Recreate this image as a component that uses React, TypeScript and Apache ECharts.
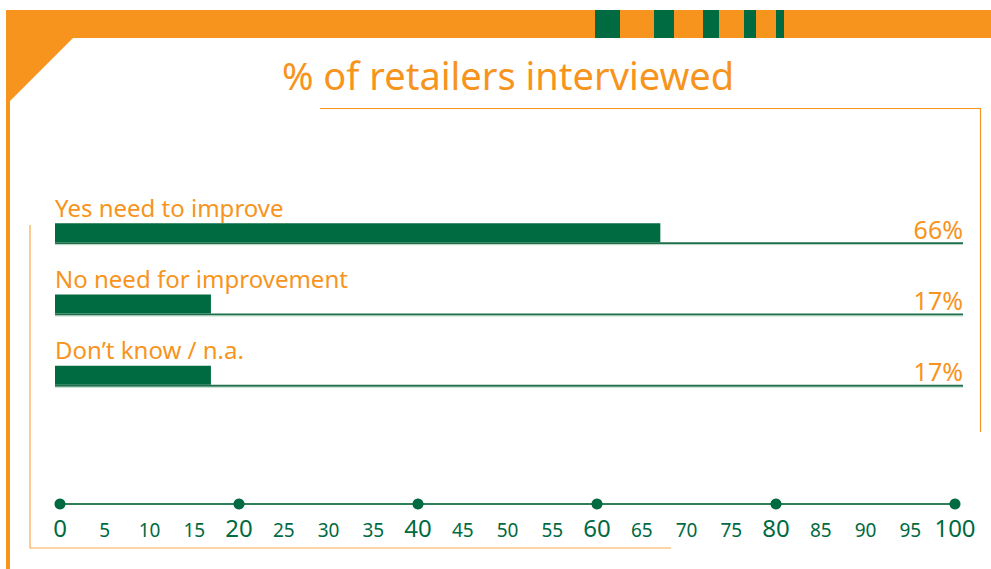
import React, { useEffect, useRef } from "react";
import * as echarts from "echarts";

const categories = ["Yes need to improve", "No need for improvement", "Don\u2019t know / n.a."];
const values = [66, 17, 17];
const majorTicks = [0, 20, 40, 60, 80, 100];

const ORANGE = "#F7941D";
const GREEN = "#006A41";
const FONT = "Noto Sans";

export default function App() {
  const ref = useRef<HTMLDivElement>(null);
  useEffect(() => {
    if (!ref.current) return;
    const chart = echarts.init(ref.current, null, { renderer: "svg" });
    const option: any = {
      animation: false,
      backgroundColor: "#ffffff",
      title: {
        text: "% of retailers interviewed",
        left: 503,
        textAlign: "center",
        top: 51,
        textStyle: { color: ORANGE, fontFamily: FONT, fontWeight: "normal", fontSize: 38 },
      },
      grid: [
        { left: 55, right: 28, top: 197, height: 214 },
        { left: 60, right: 36, top: 494, height: 10 },
      ],
      xAxis: [
        { gridIndex: 0, type: "value", min: 0, max: 99, show: false },
        {
          gridIndex: 1,
          type: "value",
          min: 0,
          max: 100,
          interval: 5,
          position: "bottom",
          axisLine: { show: true, lineStyle: { color: "#2f7f58", width: 2 } },
          axisTick: { show: false },
          splitLine: { show: false },
          axisLabel: {
            interval: 0,
            margin: 8,
            showMinLabel: true,
            showMaxLabel: true,
            formatter: (v: number) => (v % 20 === 0 ? `{big|${v}}` : `{small|${v}}`),
            rich: {
              big: { fontSize: 24, fontFamily: FONT, color: GREEN, lineHeight: 30 },
              small: { fontSize: 19, fontFamily: FONT, color: GREEN, lineHeight: 30, padding: [5, 0, 0, 0] },
            },
          },
        },
      ],
      yAxis: [
        { gridIndex: 0, type: "category", data: categories, inverse: true, show: false },
        { gridIndex: 1, type: "value", min: 0, max: 1, show: false },
      ],
      series: [
        {
          type: "custom",
          xAxisIndex: 0,
          yAxisIndex: 0,
          data: categories.map((c, i) => [values[i], i]),
          encode: { x: 0, y: 1 },
          z: 1,
          renderItem: (params: any, api: any) => {
            const idx = api.value(1);
            const start = api.coord([0, idx]);
            const end = api.coord([99, idx]);
            const bottom = start[1] + 9.5;
            return {
              type: "group",
              children: [
                {
                  type: "line",
                  shape: { x1: start[0], y1: bottom + 1, x2: end[0], y2: bottom + 1 },
                  style: { stroke: "#1f6e4a", lineWidth: 2 },
                },
                {
                  type: "line",
                  shape: { x1: start[0], y1: bottom + 2.5, x2: end[0], y2: bottom + 2.5 },
                  style: { stroke: "#b9dcc8", lineWidth: 1 },
                },
                {
                  type: "text",
                  style: {
                    x: start[0],
                    y: bottom - 19 - 4,
                    text: categories[idx],
                    fill: ORANGE,
                    font: `24px "${FONT}"`,
                    textAlign: "left",
                    textVerticalAlign: "bottom",
                  },
                },
                {
                  type: "text",
                  style: {
                    x: end[0],
                    y: bottom - 1,
                    text: values[idx] + "%",
                    fill: ORANGE,
                    font: `25px "${FONT}"`,
                    textAlign: "right",
                    textVerticalAlign: "bottom",
                  },
                },
              ],
            };
          },
        },
        {
          type: "bar",
          xAxisIndex: 0,
          yAxisIndex: 0,
          data: values,
          barWidth: 19,
          itemStyle: { color: GREEN },
          z: 3,
        },
        {
          type: "scatter",
          xAxisIndex: 1,
          yAxisIndex: 1,
          data: majorTicks.map((v) => [v, 0]),
          symbolSize: 11,
          itemStyle: { color: GREEN, opacity: 1 },
          clip: false,
          z: 5,
        },
      ],
      graphic: [
        { type: "rect", shape: { x: 6, y: 10, width: 985, height: 28 }, style: { fill: ORANGE }, silent: true },
        { type: "rect", shape: { x: 6, y: 10, width: 4, height: 559 }, style: { fill: ORANGE }, silent: true },
        { type: "polygon", shape: { points: [[10, 37], [74, 37], [10, 101]] }, style: { fill: ORANGE }, silent: true },
        { type: "rect", shape: { x: 595, y: 10, width: 25, height: 28 }, style: { fill: GREEN }, silent: true },
        { type: "rect", shape: { x: 654, y: 10, width: 20, height: 28 }, style: { fill: GREEN }, silent: true },
        { type: "rect", shape: { x: 703, y: 10, width: 16, height: 28 }, style: { fill: GREEN }, silent: true },
        { type: "rect", shape: { x: 744, y: 10, width: 12, height: 28 }, style: { fill: GREEN }, silent: true },
        { type: "rect", shape: { x: 776, y: 10, width: 8, height: 28 }, style: { fill: GREEN }, silent: true },
        { type: "polyline", shape: { points: [[320, 108.5], [980.5, 108.5], [980.5, 432]] }, style: { stroke: ORANGE, lineWidth: 1.2, fill: "none" }, silent: true },
        { type: "polyline", shape: { points: [[30, 225], [30, 548], [671, 548]] }, style: { stroke: "#F9A94A", lineWidth: 1.2, fill: "none" }, silent: true },
      ],
    };
    chart.setOption(option);
    return () => chart.dispose();
  }, []);
  return (
    <div
      ref={ref}
      style={{ position: "fixed", left: 0, top: 0, width: 991, height: 569 }}
    />
  );
}
